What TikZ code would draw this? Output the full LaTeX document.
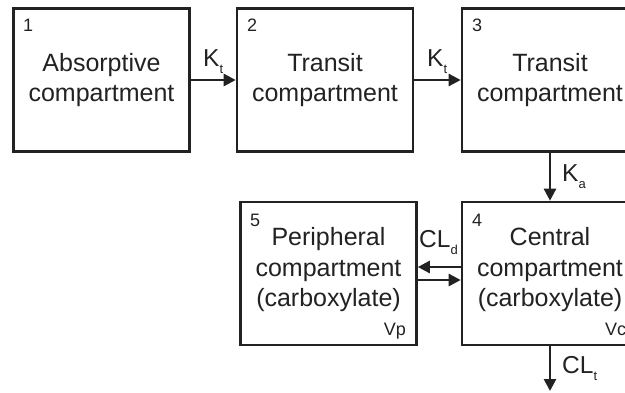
\documentclass[tikz,border=0pt]{standalone}
\usepackage{fontspec}
\setmainfont{Liberation Sans}
\usetikzlibrary{arrows.meta}
\definecolor{ink}{RGB}{34,34,34}
\newcommand{\mysub}[1]{\raisebox{-0.3em}{\fontsize{13}{13}\selectfont #1}}
\begin{document}
\begin{tikzpicture}[x=1pt,y=-1pt,
  comp/.style={draw=ink, line width=2.6pt, minimum width=176pt, minimum height=143pt, inner sep=0pt, align=center, text=ink, font=\fontsize{25}{30.5}\selectfont},
  num/.style={text=ink, font=\fontsize{18}{18}\selectfont, inner sep=0pt},
  vol/.style={text=ink, font=\fontsize{18}{18}\selectfont, inner sep=0pt},
  rate/.style={text=ink, font=\fontsize{24.5}{24.5}\selectfont, inner sep=0pt},
  arr/.style={draw=ink, line width=2.6pt, -{Triangle[length=12pt,width=12pt]}}]
\clip (0,0) rectangle (625,392);
\fill[white] (0,0) rectangle (625,392);
% compartments
\node[comp] (b1) at (101.5,80) {Absorptive\\compartment};
\node[comp] (b2) at (325,80) {Transit\\compartment};
\node[comp] (b3) at (550,80) {Transit\\compartment};
\node[comp] (b5) at (328.5,273.5) {};
\node[comp] (b4) at (550,273.5) {};
\node[comp, draw=none, minimum width=0pt, minimum height=0pt] (t5) at (328.5,270) {Peripheral\\compartment\\(carboxylate)};
\node[comp, draw=none, minimum width=0pt, minimum height=0pt] (t4) at (550,270) {Central\\compartment\\(carboxylate)};
% numbers
\node[num, anchor=base west] (n1) at (23,31) {1};
\node[num, anchor=base west] (n2) at (247,31) {2};
\node[num, anchor=base west] (n3) at (472,31) {3};
\node[num, anchor=base west] (n5) at (250,226) {5};
\node[num, anchor=base west] (n4) at (472,226) {4};
% volumes
\node[vol, anchor=base east] (vp) at (406,335) {Vp};
\node[vol, anchor=base west] (vc) at (605,335) {Vc};
% connectors
\coordinate (out) at (550,391);
\draw[arr] (b1.east) -- (b2.west);
\draw[arr] (b2.east) -- (b3.west);
\draw[arr] (b3.south) -- (b4.north);
\draw[arr] ([yshift=6.5pt]b4.west) -- ([yshift=6.5pt]b5.east);
\draw[arr] ([yshift=-6.5pt]b5.east) -- ([yshift=-6.5pt]b4.west);
\draw[arr] (b4.south) -- (out);
% rate labels
\node[rate, anchor=base west] (kt1) at (203,66) {K\mysub{t}};
\node[rate, anchor=base west] (kt2) at (427,66) {K\mysub{t}};
\node[rate, anchor=base west] (ka) at (562,181) {K\mysub{a}};
\node[rate, anchor=base west] (cld) at (419,247) {CL\mysub{d}};
\node[rate, anchor=base west] (clt) at (562,373) {CL\mysub{t}};
\end{tikzpicture}
\end{document}
